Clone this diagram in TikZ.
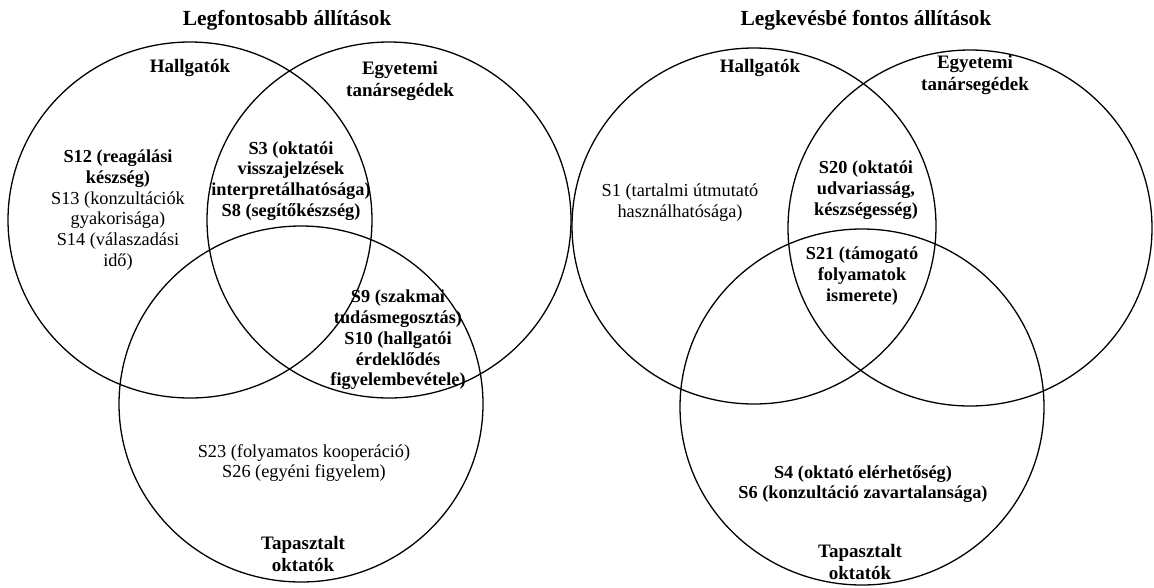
\documentclass[tikz,border=0pt]{standalone}
\usepackage{fontspec}
\setmainfont{Liberation Serif}
\usetikzlibrary{shapes.geometric}

\tikzset{
  setcircle/.style={ellipse, draw=black, line width=1.3pt, minimum width=364pt, minimum height=356pt, inner sep=0pt},
  heading/.style={font=\bfseries\fontsize{21.5}{25}\selectfont, align=center},
  grouplabel/.style={font=\bfseries\fontsize{19}{22.5}\selectfont, align=center, inner sep=0pt},
  itemtext/.style={font=\fontsize{18.3}{20.8}\selectfont, align=center, inner sep=0pt},
  itembold/.style={itemtext, font=\bfseries\fontsize{18.3}{20.8}\selectfont},
}

\begin{document}
\begin{tikzpicture}[x=1pt, y=-1pt]
  \useasboundingbox (0,0) rectangle (1154,587);

  % ---- Legfontosabb állítások ----
  \node[heading] (titleL) at (287,20) {Legfontosabb állítások};
  \node[setcircle] (hallL) at (190,220) {};
  \node[setcircle] (egyL)  at (389,220) {};
  \node[setcircle] (tapL)  at (301,404) {};

  \node[grouplabel] (hallLabL) at (190,68) {Hallgatók};
  \node[grouplabel] (egyLabL)  at (400,81) {Egyetemi\\tanársegédek};
  \node[grouplabel] (tapLabL)  at (303,554) {Tapasztalt\\oktatók};

  \node[itemtext] (s12) at (118,210)
    {\textbf{S12 (reagálási}\\\textbf{készség)}\\S13 (konzultációk\\gyakorisága)\\S14 (válaszadási\\idő)};
  \node[itembold] (s3) at (291,181)
    {S3 (oktatói\\visszajelzések\\interpretálhatósága)\\S8 (segítőkészség)};
  \node[itembold] (s9) at (398,340)
    {S9 (szakmai\\tudásmegosztás)\\S10 (hallgatói\\érdeklődés\\figyelembevétele)};
  \node[itemtext] (s23) at (304,463)
    {S23 (folyamatos kooperáció)\\S26 (egyéni figyelem)};

  % ---- Legkevésbé fontos állítások ----
  \node[heading] (titleR) at (866,20) {Legkevésbé fontos állítások};
  \node[setcircle] (hallR) at (754,226) {};
  \node[setcircle] (egyR)  at (970,228) {};
  \node[setcircle] (tapR)  at (862,407) {};

  \node[grouplabel] (hallLabR) at (760,68) {Hallgatók};
  \node[grouplabel] (egyLabR)  at (975,75) {Egyetemi\\tanársegédek};
  \node[grouplabel] (tapLabR)  at (860,562) {Tapasztalt\\oktatók};

  \node[itemtext] (s1) at (680,203)
    {S1 (tartalmi útmutató\\használhatósága)};
  \node[itembold] (s20) at (866,190)
    {S20 (oktatói\\udvariasság,\\készségesség)};
  \node[itembold] (s21) at (862,276)
    {S21 (támogató\\folyamatok\\ismerete)};
  \node[itembold] (s4) at (863,484)
    {S4 (oktató elérhetőség)\\S6 (konzultáció zavartalansága)};
\end{tikzpicture}
\end{document}
